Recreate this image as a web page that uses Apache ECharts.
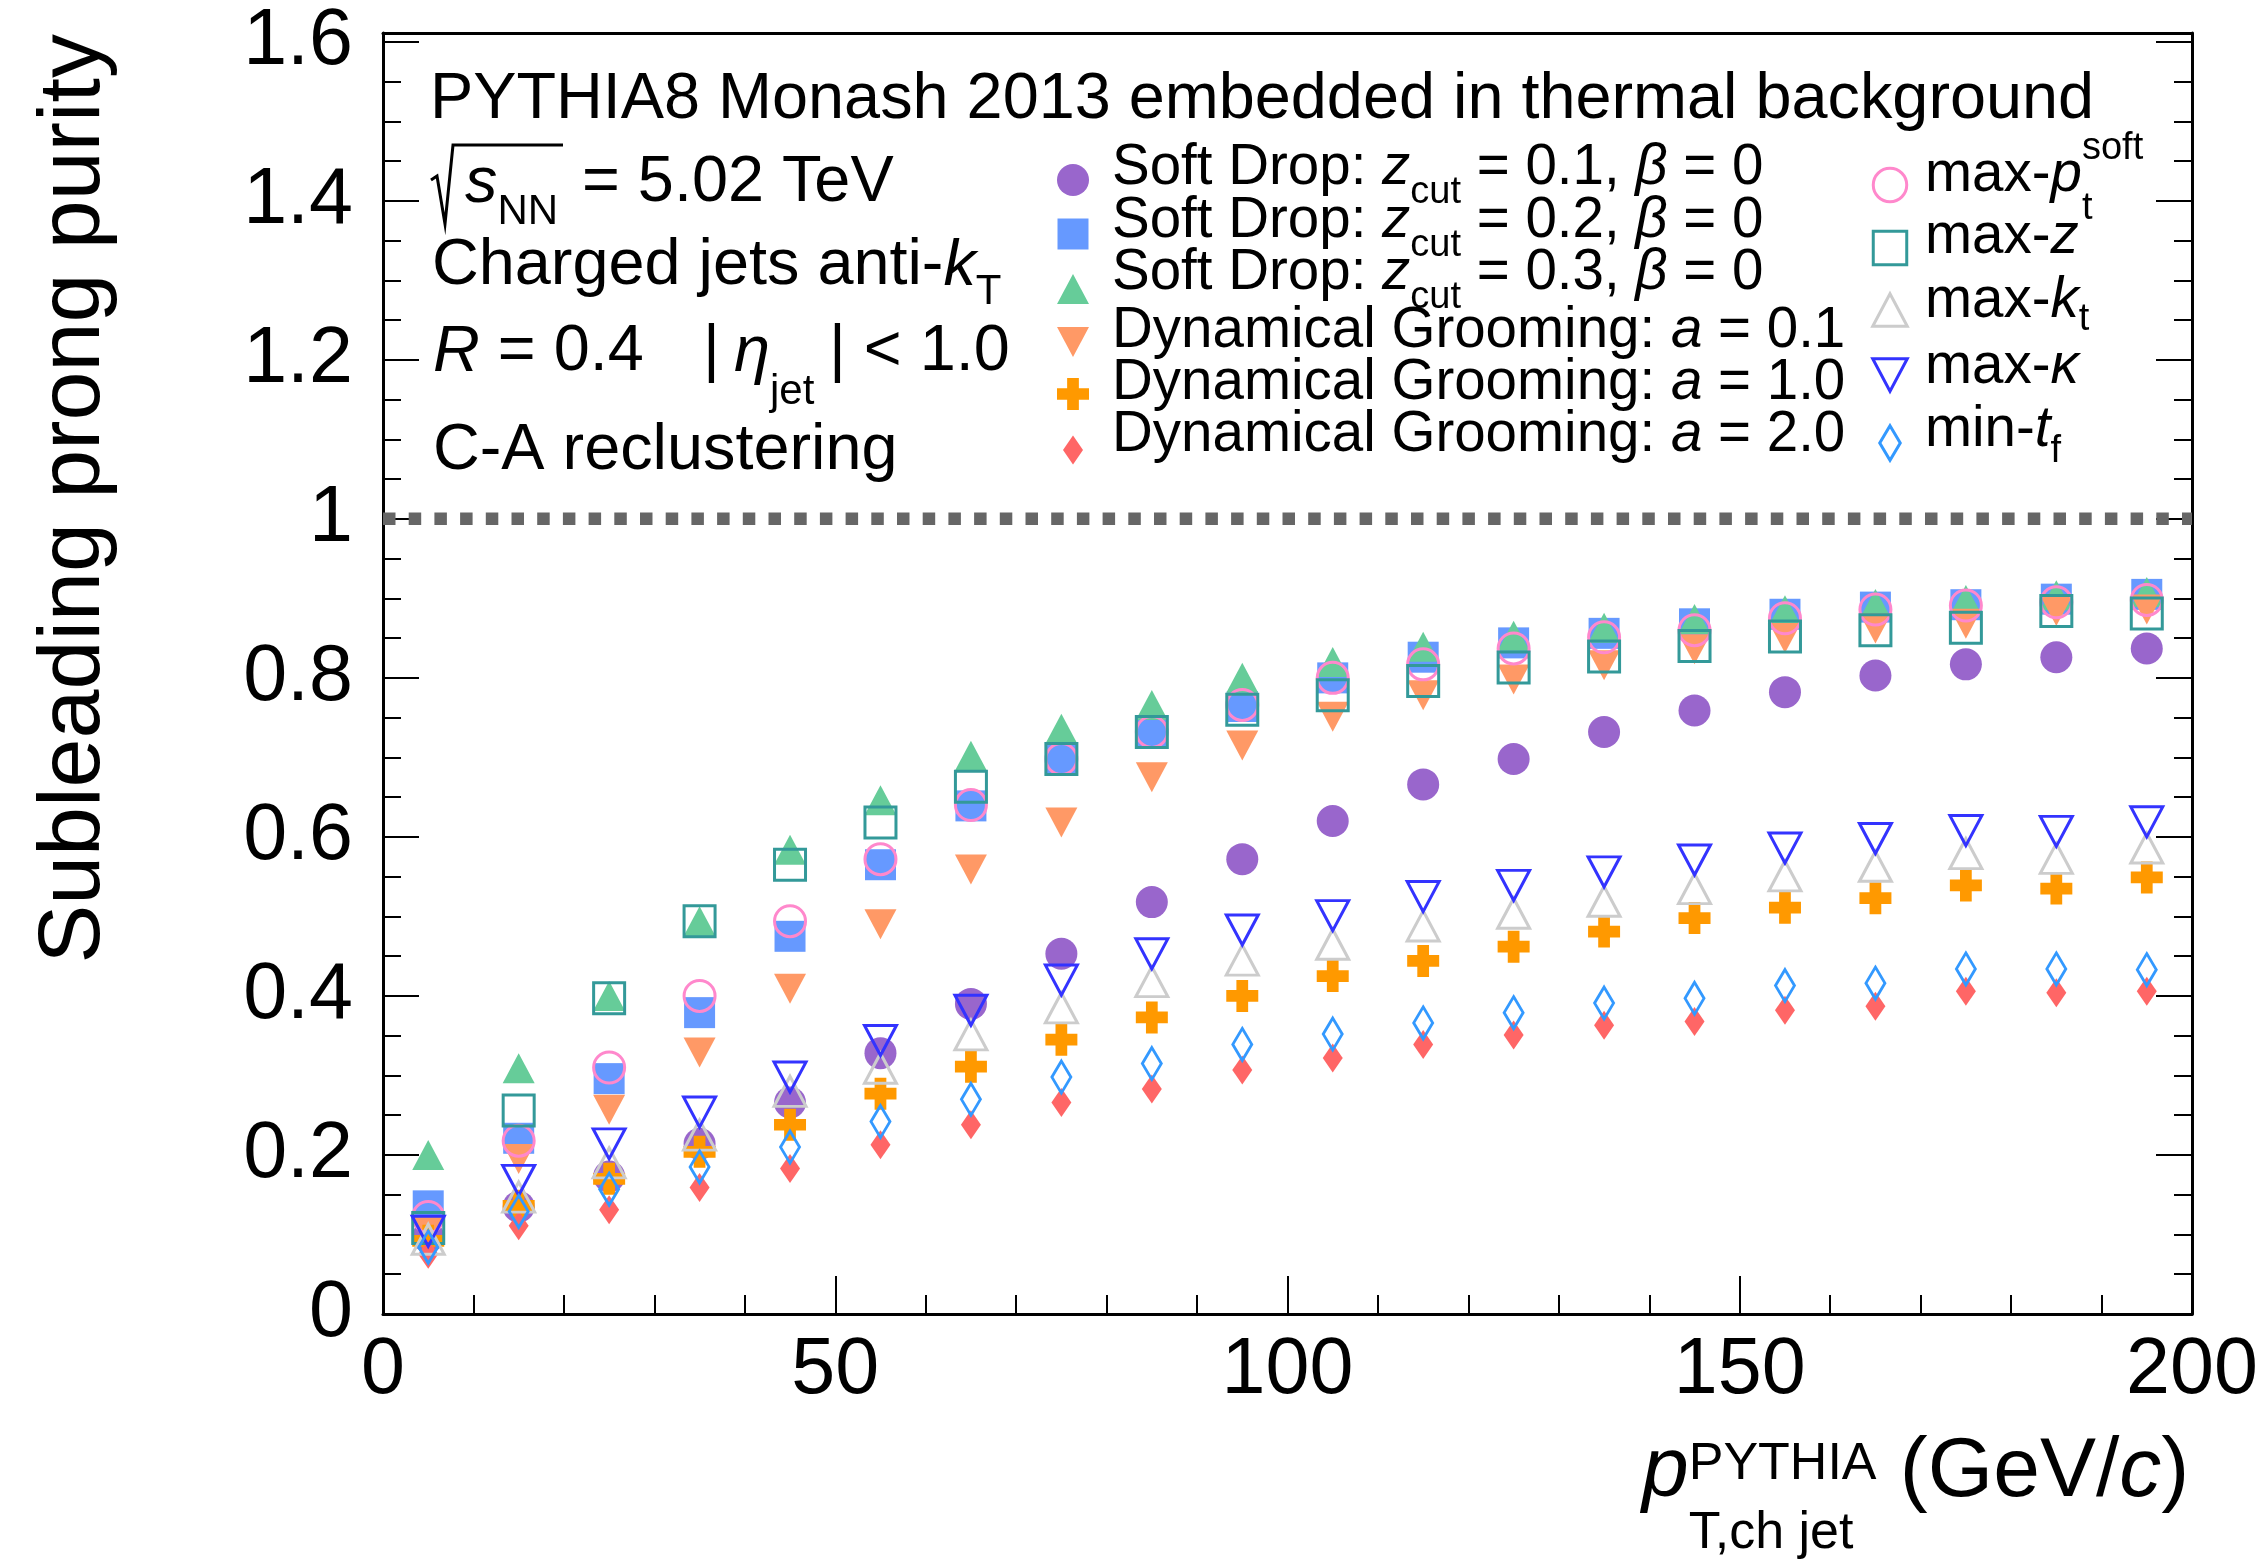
<!DOCTYPE html>
<html>
<head>
<meta charset="utf-8">
<title>Subleading prong purity</title>
<script src="https://cdn.jsdelivr.net/npm/echarts@6/dist/echarts.min.js"></script>
<style>
  html, body { margin: 0; padding: 0; background: #fff; }
  #main { width: 2264px; height: 1565px; }
</style>
</head>
<body>
<div id="main"></div>
<script>
// jet pT bin centres (GeV/c)
var ptBins = [5, 15, 25, 35, 45, 55, 65, 75, 85, 95, 105, 115, 125, 135, 145, 155, 165, 175, 185, 195];

// subleading prong purity, one array per grooming method
var sdZcut01 = [0.097, 0.135, 0.173, 0.214, 0.266, 0.328, 0.390, 0.453, 0.518, 0.572, 0.620, 0.666, 0.698, 0.732, 0.759, 0.782, 0.803, 0.817, 0.826, 0.837];
var sdZcut02 = [0.136, 0.221, 0.296, 0.379, 0.475, 0.565, 0.639, 0.697, 0.733, 0.764, 0.800, 0.826, 0.844, 0.856, 0.868, 0.880, 0.889, 0.892, 0.899, 0.905];
var sdZcut03 = [0.200, 0.309, 0.400, 0.494, 0.584, 0.646, 0.702, 0.736, 0.766, 0.800, 0.820, 0.839, 0.853, 0.863, 0.874, 0.885, 0.893, 0.898, 0.904, 0.908];
var dgA01    = [0.105, 0.195, 0.257, 0.329, 0.409, 0.490, 0.559, 0.618, 0.675, 0.715, 0.751, 0.778, 0.798, 0.816, 0.836, 0.850, 0.862, 0.868, 0.884, 0.886];
var dgA10    = [0.092, 0.136, 0.170, 0.204, 0.238, 0.277, 0.311, 0.345, 0.373, 0.400, 0.425, 0.444, 0.462, 0.481, 0.498, 0.511, 0.523, 0.539, 0.535, 0.549];
var dgA20    = [0.075, 0.111, 0.131, 0.159, 0.183, 0.213, 0.238, 0.266, 0.283, 0.307, 0.322, 0.339, 0.351, 0.363, 0.368, 0.382, 0.387, 0.406, 0.404, 0.406];
var maxPtSoft = [0.122, 0.218, 0.310, 0.400, 0.494, 0.572, 0.640, 0.698, 0.732, 0.766, 0.800, 0.817, 0.837, 0.851, 0.860, 0.875, 0.886, 0.891, 0.895, 0.898];
var maxZ     = [0.108, 0.256, 0.397, 0.494, 0.565, 0.618, 0.663, 0.698, 0.732, 0.760, 0.778, 0.796, 0.813, 0.827, 0.840, 0.852, 0.860, 0.863, 0.884, 0.881];
var maxKt    = [0.094, 0.147, 0.190, 0.225, 0.280, 0.309, 0.351, 0.385, 0.418, 0.445, 0.465, 0.488, 0.504, 0.519, 0.535, 0.551, 0.563, 0.579, 0.573, 0.586];
var maxKappa = [0.104, 0.168, 0.214, 0.254, 0.298, 0.344, 0.382, 0.420, 0.453, 0.483, 0.501, 0.525, 0.539, 0.556, 0.571, 0.586, 0.598, 0.608, 0.607, 0.619];
var minTf    = [0.084, 0.129, 0.157, 0.185, 0.210, 0.242, 0.270, 0.298, 0.315, 0.339, 0.352, 0.366, 0.379, 0.391, 0.397, 0.413, 0.416, 0.434, 0.434, 0.433];

// reference line at purity = 1
var refX = [0, 200];
var refY = [1, 1];

var xTicks = [0, 50, 100, 150, 200];
var yTicks = [0, 0.2, 0.4, 0.6, 0.8, 1, 1.2, 1.4, 1.6];

var FONT = '"Liberation Sans", Arial, Helvetica, sans-serif';
var CROSS = 'path://M-1.1,-3H1.1V-1.1H3V1.1H1.1V3H-1.1V1.1H-3V-1.1H-1.1Z';

// marker styles, ROOT-like
var methods = [
  { values: sdZcut01, kind: 'circle',  w: 32, h: 32, color: '#9966cc', open: false },
  { values: sdZcut02, kind: 'rect',    w: 31, h: 31, color: '#6699ff', open: false },
  { values: sdZcut03, kind: 'up',      w: 32, h: 30, color: '#66cc99', open: false },
  { values: dgA01,    kind: 'down',    w: 32, h: 30, color: '#ff9966', open: false },
  { values: dgA10,    kind: 'cross',   w: 32, h: 32, color: '#ff9900', open: false },
  { values: dgA20,    kind: 'diamond', w: 20, h: 29, color: '#ff6666', open: false },
  { values: maxPtSoft, kind: 'circle', w: 31, h: 31, color: '#ff88cc', open: true },
  { values: maxZ,     kind: 'rect',    w: 31, h: 31, color: '#339999', open: true },
  { values: maxKt,    kind: 'up',      w: 32, h: 30, color: '#cccccc', open: true },
  { values: maxKappa, kind: 'down',    w: 32, h: 30, color: '#3333ff', open: true },
  { values: minTf,    kind: 'diamond', w: 19, h: 32, color: '#3399ff', open: true }
];

var symbolOf = { circle: 'circle', rect: 'rect', up: 'triangle', down: 'triangle', diamond: 'diamond', cross: CROSS };

var series = [{
  type: 'line',
  data: refX.map(function (x, i) { return [x, refY[i]]; }),
  symbol: 'none',
  silent: true,
  lineStyle: { color: '#666666', width: 12.5, type: [12.5, 13.2], cap: 'butt' },
  z: 1
}];

methods.forEach(function (m) {
  series.push({
    type: 'scatter',
    data: ptBins.map(function (x, i) { return [x, m.values[i]]; }),
    symbol: symbolOf[m.kind],
    symbolSize: [m.w, m.h],
    symbolRotate: m.kind === 'down' ? 180 : 0,
    itemStyle: m.open
      ? { color: 'rgba(0,0,0,0)', borderColor: m.color, borderWidth: 3, opacity: 1 }
      : { color: m.color, opacity: 1 },
    z: 3
  });
});

// --- text helpers (TLatex-like rows) ---
var measureCtx = document.createElement('canvas').getContext('2d');
function textWidth(t, fs, it) {
  measureCtx.font = (it ? 'italic ' : '') + fs + 'px ' + FONT;
  return measureCtx.measureText(t).width;
}
function texRow(x, base, parts, out) {
  var kept = 0;
  parts.forEach(function (p) {
    var fs = p.fs || 64.8;
    if (p.x != null) x = p.x;
    var w = textWidth(p.t, fs, p.it);
    out.push({
      type: 'text', silent: true,
      x: x, y: base + (p.dy || 0) - 0.347 * fs,
      style: {
        text: p.t, fill: '#000', fontSize: fs, fontFamily: FONT,
        fontStyle: p.it ? 'italic' : 'normal', align: 'left', verticalAlign: 'middle'
      }
    });
    if (p.keep) { kept = w; } else { x += Math.max(w, kept); kept = 0; }
  });
  return x;
}

function legendMarker(m, cx, cy, k) {
  var st = m.open ? { fill: 'none', stroke: m.color, lineWidth: 3 } : { fill: m.color };
  var w = m.w * k, h = m.h * k, el;
  if (m.kind === 'circle') el = { type: 'circle', shape: { cx: cx, cy: cy, r: w / 2 } };
  else if (m.kind === 'rect') el = { type: 'rect', shape: { x: cx - w / 2, y: cy - h / 2, width: w, height: h } };
  else if (m.kind === 'up') el = { type: 'polygon', shape: { points: [[cx, cy - h / 2], [cx + w / 2, cy + h / 2], [cx - w / 2, cy + h / 2]] } };
  else if (m.kind === 'down') el = { type: 'polygon', shape: { points: [[cx, cy + h / 2], [cx + w / 2, cy - h / 2], [cx - w / 2, cy - h / 2]] } };
  else if (m.kind === 'diamond') el = { type: 'polygon', shape: { points: [[cx, cy - h / 2], [cx + w / 2, cy], [cx, cy + h / 2], [cx - w / 2, cy]] } };
  else {
    var a = w / 2, b = w * 1.1 / 6;
    el = { type: 'polygon', shape: { points: [[cx - b, cy - a], [cx + b, cy - a], [cx + b, cy - b], [cx + a, cy - b], [cx + a, cy + b], [cx + b, cy + b],
      [cx + b, cy + a], [cx - b, cy + a], [cx - b, cy + b], [cx - a, cy + b], [cx - a, cy - b], [cx - b, cy - b]] } };
  }
  el.style = st;
  el.silent = true;
  return el;
}

var g = [];

// info block
texRow(430, 123, [{ t: 'PYTHIA8 Monash 2013 embedded in thermal background' }], g);
g.push({ type: 'polyline', silent: true, shape: { points: [[431, 180], [437, 176], [445, 224], [453, 145], [563, 145]] },
  style: { stroke: '#000', lineWidth: 3, fill: null } });
texRow(0, 206, [{ t: 's', it: true, x: 465 }, { t: 'NN', fs: 42, dy: 21 }, { t: '= 5.02 TeV', x: 582 }], g);
texRow(432, 289, [{ t: 'Charged jets anti-' }, { t: 'k', it: true }, { t: 'T', fs: 42, dy: 18 }], g);
texRow(433, 375, [{ t: 'R', it: true }, { t: ' = 0.4' }, { t: '|', x: 703 }, { t: 'η', it: true, x: 734 },
  { t: 'jet', fs: 42, dy: 32 }, { t: '| < 1.0', x: 829 }], g);
texRow(433, 474, [{ t: 'C-A reclustering' }], g);

// legend, left column
var leftBase = [188, 241, 293, 351, 403, 455];
var leftMark = [180, 234, 289, 342, 394, 450];
var zcuts = ['0.1', '0.2', '0.3'];
var aVals = ['0.1', '1.0', '2.0'];
var LF = 56.5, LS = 38;
for (var i = 0; i < 6; i++) {
  g.push(legendMarker(methods[i], 1073, leftMark[i], 1));
  var parts = i < 3
    ? [{ t: 'Soft Drop: ', fs: LF }, { t: 'z', fs: LF, it: true }, { t: 'cut', fs: LS, dy: 18 },
       { t: ' = ' + zcuts[i] + ', ', fs: LF }, { t: 'β', fs: LF, it: true }, { t: ' = 0', fs: LF }]
    : [{ t: 'Dynamical Grooming: ', fs: LF }, { t: 'a', fs: LF, it: true }, { t: ' = ' + aVals[i - 3], fs: LF }];
  texRow(1112, leftBase[i], parts, g);
}

// legend, right column
var rightBase = [195, 257, 321, 387, 450];
var rightMark = [185, 248, 310, 375, 443];
var rightParts = [
  [{ t: 'max-', fs: LF }, { t: 'p', fs: LF, it: true }, { t: 'soft', fs: LS, dy: -33, keep: true }, { t: 't', fs: LS, dy: 27 }],
  [{ t: 'max-', fs: LF }, { t: 'z', fs: LF, it: true }],
  [{ t: 'max-', fs: LF }, { t: 'k', fs: LF, it: true }, { t: 't', fs: LS, dy: 12 }],
  [{ t: 'max-', fs: LF }, { t: 'κ', fs: LF, it: true }],
  [{ t: 'min-', fs: LF }, { t: 't', fs: LF, it: true }, { t: 'f', fs: LS, dy: 15 }]
];
for (var j = 0; j < 5; j++) {
  g.push(legendMarker(methods[6 + j], 1890, rightMark[j], 1.08));
  texRow(1925, rightBase[j], rightParts[j], g);
}

// axis titles
texRow(1642, 1502, [{ t: 'p', fs: 84, it: true }, { t: 'PYTHIA', fs: 52, dy: -19, keep: true },
  { t: 'T,ch jet', fs: 52, dy: 50 }, { t: ' (GeV/', fs: 84 }, { t: 'c', fs: 84, it: true }, { t: ')', fs: 84 }], g);
g.push({
  type: 'text', silent: true, x: 75, y: 34, rotation: Math.PI / 2,
  style: { text: 'Subleading prong purity', fill: '#000', fontSize: 88, fontFamily: FONT,
    align: 'right', verticalAlign: 'middle' }
});

function onTick(list) {
  return function (v) {
    for (var k = 0; k < list.length; k++) if (Math.abs(v - list[k]) < 1e-6) return String(list[k]);
    return '';
  };
}

var frame = { show: true, onZero: false, lineStyle: { color: '#000', width: 3 } };
var yMax = 1.611;

var chart = echarts.init(document.getElementById('main'), null, { renderer: 'canvas' });
chart.setOption({
  animation: false,
  backgroundColor: '#fff',
  grid: { left: 383, right: 72, top: 33, bottom: 251, containLabel: false, outerBoundsMode: 'none' },
  xAxis: [{
    type: 'value', position: 'bottom', min: 0, max: 200, interval: 50,
    axisLine: frame,
    axisTick: { inside: true, length: 38, lineStyle: { color: '#000', width: 2 } },
    minorTick: { show: true, splitNumber: 5, length: 19, lineStyle: { color: '#000', width: 2 } },
    splitLine: { show: false },
    axisLabel: { margin: 18, fontSize: 79, color: '#000', fontFamily: FONT, formatter: onTick(xTicks) }
  }, {
    type: 'value', position: 'top', min: 0, max: 200, interval: 50,
    axisLine: frame, axisTick: { show: false }, axisLabel: { show: false }, splitLine: { show: false }
  }],
  yAxis: [{
    type: 'value', position: 'left', min: 0, max: yMax, interval: 0.2,
    axisLine: frame,
    axisTick: { inside: true, length: 36, lineStyle: { color: '#000', width: 2 } },
    minorTick: { show: true, splitNumber: 4, length: 18, lineStyle: { color: '#000', width: 2 } },
    splitLine: { show: false },
    axisLabel: { margin: 30, fontSize: 79, color: '#000', fontFamily: FONT, formatter: onTick(yTicks) }
  }, {
    type: 'value', position: 'right', min: 0, max: yMax, interval: 0.2,
    axisLine: frame,
    axisTick: { inside: true, length: 36, lineStyle: { color: '#000', width: 2 } },
    minorTick: { show: true, splitNumber: 4, length: 18, lineStyle: { color: '#000', width: 2 } },
    splitLine: { show: false },
    axisLabel: { show: false }
  }],
  series: series,
  graphic: g
});
</script>
</body>
</html>
